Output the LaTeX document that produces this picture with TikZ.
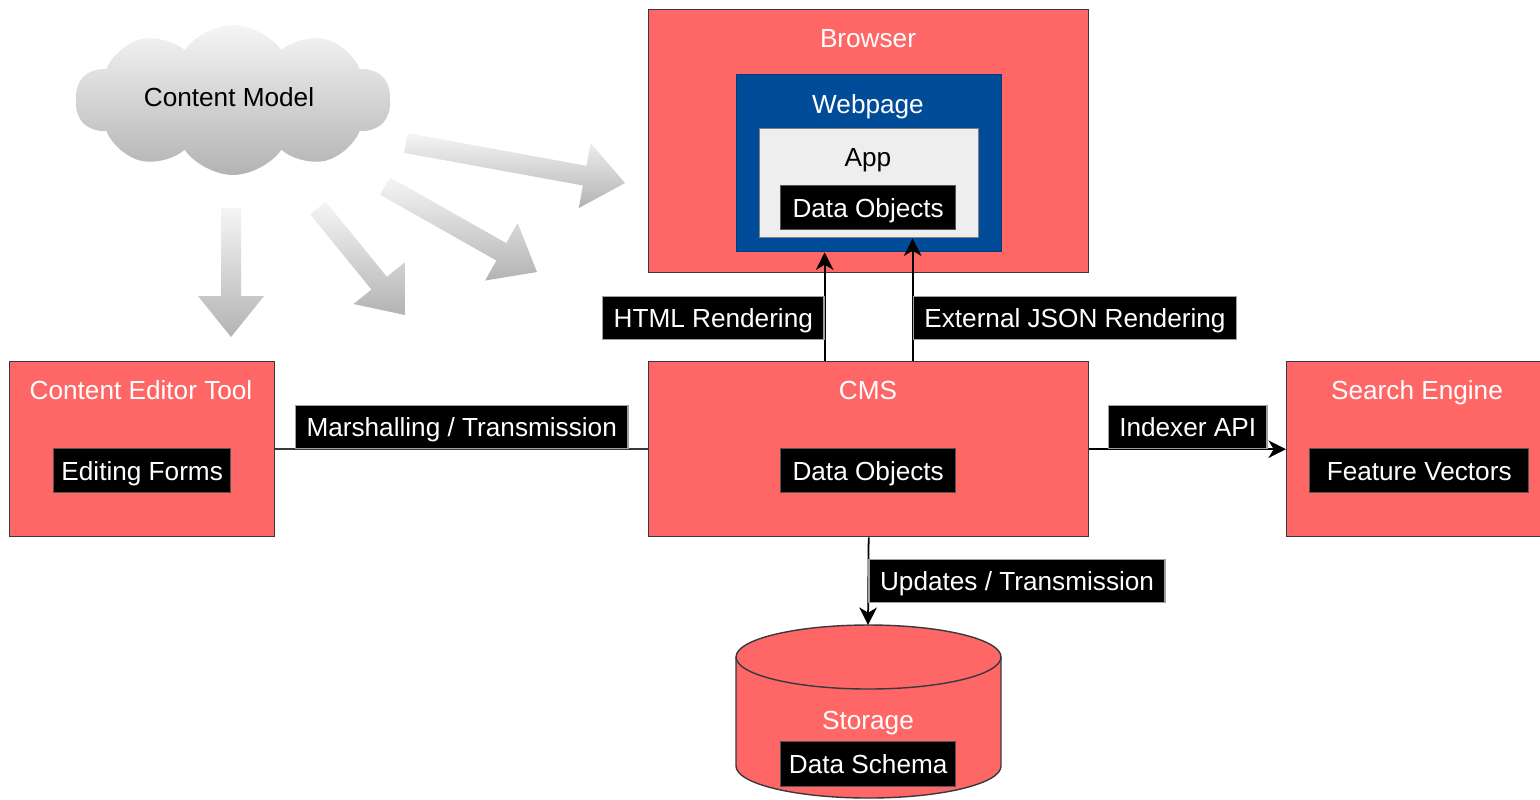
\documentclass[tikz,border=0pt]{standalone}
\usepackage{fontspec}
\setmainfont{Liberation Sans}
\usetikzlibrary{shapes.symbols,arrows.meta}
\definecolor{boxred}{HTML}{FF6666}
\definecolor{boxline}{HTML}{36393D}
\definecolor{webblue}{HTML}{004C99}
\definecolor{appgray}{HTML}{EEEEEE}
\definecolor{gradlight}{HTML}{F5F5F5}
\definecolor{graddark}{HTML}{B3B3B3}
\definecolor{lblborder}{HTML}{A0A0A0}
\definecolor{innerborder}{HTML}{555555}
\tikzset{
  redbox/.style={draw=boxline, fill=boxred, line width=0.8pt, inner sep=0pt, anchor=north west},
  bluebox/.style={draw=webblue!80!black, fill=webblue, line width=0.8pt, inner sep=0pt, anchor=north west},
  appbox/.style={draw=gray, fill=appgray, line width=0.8pt, inner sep=0pt, anchor=north west},
  blackbox/.style={draw=innerborder, fill=black, text=white, line width=0.8pt, inner sep=0pt,
    text height=10.7pt, text depth=0pt, anchor=north west},
  title/.style={inner sep=0pt, text height=10.7pt, text depth=0pt},
  edgelabel/.style={draw=lblborder, fill=black, text=white, line width=0.8pt, inner xsep=0.22cm, inner ysep=0pt,
    minimum height=0.86cm, text height=10.7pt, text depth=0pt},
  conn/.style={draw=black, line width=1pt},
  tip/.style={-{Stealth[length=10pt,width=10pt,inset=3pt]}},
}
\newcommand\grayarrow[4]{%
  \pgfmathsetmacro\gaDx{(#3-#1)/100}%
  \pgfmathsetmacro\gaDy{(#4-#2)/100}%
  \pgfmathsetmacro\gaLen{sqrt(\gaDx*\gaDx+\gaDy*\gaDy)}%
  \pgfmathsetmacro\gaUx{\gaDx/\gaLen}%
  \pgfmathsetmacro\gaUy{\gaDy/\gaLen}%
  \pgfmathsetmacro\gaBx{#3-41*\gaUx}%
  \pgfmathsetmacro\gaBy{#4-41*\gaUy}%
  \shade[top color=gradlight, bottom color=graddark]
    ({#1-10*\gaUy},{#2+10*\gaUx}) -- ({\gaBx-10*\gaUy},{\gaBy+10*\gaUx})
    -- ({\gaBx-33*\gaUy},{\gaBy+33*\gaUx}) -- (#3,#4)
    -- ({\gaBx+33*\gaUy},{\gaBy-33*\gaUx}) -- ({\gaBx+10*\gaUy},{\gaBy-10*\gaUx})
    -- ({#1+10*\gaUy},{#2-10*\gaUx}) -- cycle;}
\begin{document}
\begin{tikzpicture}[x=0.02cm, y=-0.02cm, font=\fontsize{14.9pt}{17pt}\selectfont]
\useasboundingbox (0,0) rectangle (1540,799);
\fill[white] (0,0) rectangle (1540,799);

% Content model cloud
\node[cloud, cloud puffs=10, cloud puff arc=110, cloud ignores aspect,
  minimum width=6.3cm, minimum height=3cm, inner sep=0pt,
  top color=gradlight, bottom color=graddark] (cloud) at (233,100) {};
\node[title] (cloudtxt) at (229,97) {Content Model};

% gray flex arrows
\grayarrow{231}{208}{231}{337}
\grayarrow{318}{208}{405}{315}
\grayarrow{385}{186}{537}{272}
\grayarrow{406}{143}{625}{183}

% Browser
\node[redbox, minimum width=8.8cm, minimum height=5.26cm] (browser) at (648,9) {};
\node[title, text=white] (browsertxt) at (868,38) {Browser};
\node[bluebox, minimum width=5.3cm, minimum height=3.54cm] (webpage) at (736,74) {};
\node[title, text=white] (webtxt) at (868,104) {Webpage};
\node[appbox, minimum width=4.38cm, minimum height=2.18cm] (app) at (759,128) {};
\node[title] (apptxt) at (868,157) {App};
\node[blackbox, minimum width=3.5cm, minimum height=0.88cm] (dobj1) at (780,185) {Data Objects};

% CMS
\node[redbox, minimum width=8.8cm, minimum height=3.5cm] (cms) at (648,361) {};
\node[title, text=white] (cmstxt) at (868,390) {CMS};
\node[blackbox, minimum width=3.5cm, minimum height=0.88cm] (dobj2) at (780,448) {Data Objects};

% Content Editor Tool
\node[redbox, minimum width=5.3cm, minimum height=3.5cm] (cet) at (9,361) {};
\node[title, text=white] (cettxt) at (141,390) {Content Editor Tool};
\node[blackbox, minimum width=3.54cm, minimum height=0.88cm] (forms) at (53,448) {Editing Forms};

% Search Engine
\node[redbox, minimum width=5.3cm, minimum height=3.5cm] (se) at (1286,361) {};
\node[title, text=white] (setxt) at (1417,390) {Search Engine};
\node[blackbox, minimum width=4.38cm, minimum height=0.88cm] (fv) at (1309,448) {Feature Vectors};

% Storage cylinder
\filldraw[fill=boxred, draw=boxline, line width=0.8pt]
  (736,657) -- (736,766) arc (180:0:132.5 and 32) -- (1001,657) arc (360:180:132.5 and 32) -- cycle;
\draw[draw=boxline, line width=0.8pt] (736,657) arc (180:0:132.5 and 32);
\coordinate (stortop) at (868,625);
\node[title, text=white] (stortxt) at (868,720) {Storage};
\node[blackbox, minimum width=3.5cm, minimum height=0.9cm] (schema) at (780,741) {Data Schema};

% connectors
\draw[conn, tip] ([xshift=-0.88cm]cms.north) -- ([xshift=-0.88cm]cms.north |- webpage.south)
  node[edgelabel, pos=0.395, anchor=east] (lhtml) {HTML Rendering};
\draw[conn, tip] ([xshift=0.88cm]cms.north) -- ([xshift=0.88cm]cms.north |- app.south)
  node[edgelabel, pos=0.35, anchor=west] (ljson) {External JSON Rendering};
\draw[conn, draw=boxline] (cet.east) -- (cms.west)
  node[edgelabel, midway, anchor=south] (lmarsh) {Marshalling / Transmission};
\draw[conn, tip] (cms.east) -- (se.west)
  node[edgelabel, midway, anchor=south] (lindex) {Indexer API};
\draw[conn, tip] (cms.south) -- (stortop)
  node[edgelabel, midway, anchor=west] (lupd) {Updates / Transmission};
\end{tikzpicture}
\end{document}
